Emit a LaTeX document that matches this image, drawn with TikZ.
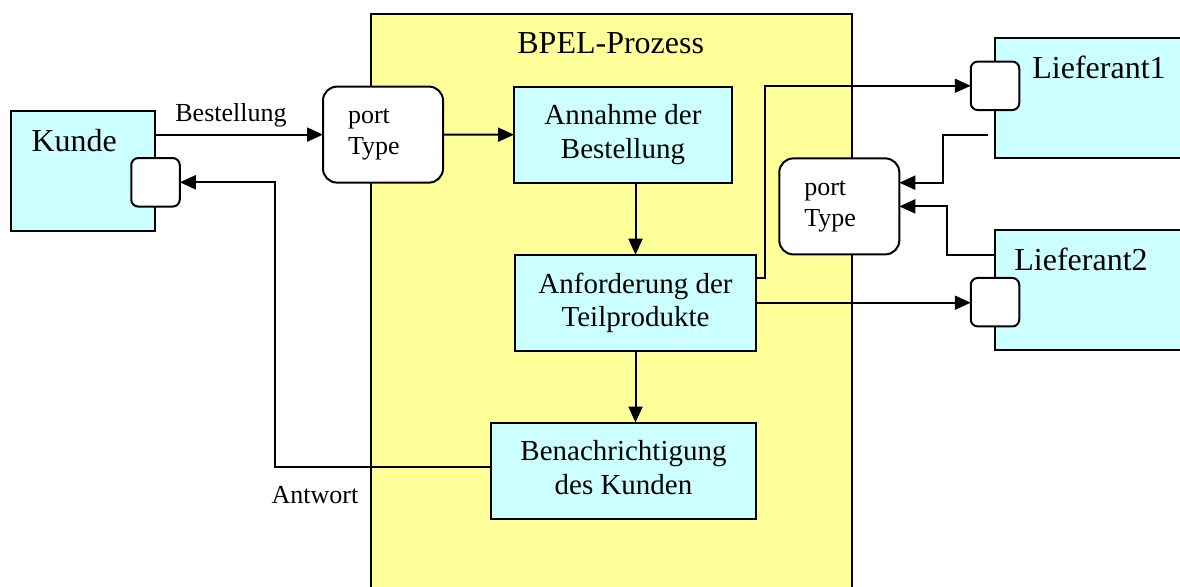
\documentclass[tikz,border=0pt]{standalone}
\usepackage{fontspec}
\setmainfont{Liberation Serif}
\usetikzlibrary{arrows.meta}
\definecolor{procyellow}{HTML}{FFFF99}
\definecolor{actcyan}{HTML}{CCFFFF}
\newcommand\txtS{\fontsize{26}{31.5}\selectfont}
\newcommand\txtM{\fontsize{29}{33.5}\selectfont}
\newcommand\txtL{\fontsize{32}{36}\selectfont}
\begin{document}
\begin{tikzpicture}[x=1pt,y=-1pt,
  every node/.style={inner sep=0pt, outer sep=0pt},
  bpelbox/.style={draw, line width=2pt, fill=procyellow},
  actor/.style={draw, line width=2pt, fill=actcyan},
  task/.style={draw, line width=2pt, fill=actcyan, minimum height=96pt, align=center, font=\txtM},
  portbox/.style={draw, line width=2pt, fill=white, rounded corners=14pt, minimum width=120pt, minimum height=96pt, inner xsep=25pt, text width=70pt, align=left, font=\txtS},
  smallport/.style={draw, line width=2pt, fill=white, rounded corners=7pt, minimum width=48.5pt, minimum height=48.5pt},
  arr/.style={line width=2pt, -{Triangle[length=16pt,width=14pt]}},
  lbl/.style={anchor=base}
]
\useasboundingbox (0,0) rectangle (1180,586);
\clip (0,0) rectangle (1180,586);

% BPEL process
\node[bpelbox, anchor=north west, minimum width=481pt, minimum height=620pt] (bpel) at (371,14) {};
\node[lbl, font=\txtL] (bpeltitle) at (610.7,53.3) {BPEL-Prozess};

% Kunde
\node[actor, minimum width=144pt, minimum height=120pt] (kunde) at (83,170.6) {};
\node[lbl, font=\txtL] (kundetxt) at (74.2,151) {Kunde};
\node[smallport] (kport) at (155.5,182.3) {};

% port types and tasks
\node[portbox] (lport) at (383,134.6) {port\\Type};
\node[task, minimum width=218pt] (annahme) at (623,134.7) {Annahme der\\Bestellung};
\node[task, minimum width=241pt] (anford) at (635.5,302.7) {Anforderung der\\Teilprodukte};
\node[task, minimum width=265pt] (benach) at (623.5,470.5) {Benachrichtigung\\des Kunden\vphantom{g}};
\node[portbox] (rport) at (839.3,206.4) {port\\Type};

% Lieferanten
\node[actor, anchor=west, minimum width=220pt, minimum height=120pt] (lief1) at (995,98.3) {};
\node[lbl, font=\txtL] (lief1txt) at (1099,78.3) {Lieferant1};
\node[smallport] (l1port) at (995,85.8) {};
\node[actor, anchor=west, minimum width=220pt, minimum height=120pt] (lief2) at (995,290) {};
\node[lbl, font=\txtL] (lief2txt) at (1081,270) {Lieferant2};
\node[smallport] (l2port) at (995,302.2) {};

% labels
\node[lbl, font=\txtS] (bestlbl) at (231,121.7) {Bestellung};
\node[lbl, font=\txtS] (antwlbl) at (315,503) {Antwort};

% connectors
\draw[arr] (kunde.east |- lport.west) -- (lport.west);
\draw[arr] (lport.east) -- (annahme.west);
\draw[arr] (anford.north |- annahme.south) -- (anford.north);
\draw[arr] (anford.south) -- (anford.south |- benach.north);
\draw[arr] ([yshift=24.4pt]anford.east) -- ++(9,0) |- (l1port.west);
\draw[arr] (anford.east) -- (anford.east -| l2port.west);
\coordinate (l1out) at (988,135);
\draw[arr] (l1out) -- ++(-45,0) |- ([yshift=23.7pt]rport.east);
\draw[arr] ([yshift=35pt]lief2.west) -- ++(-48,0) |- (rport.east);
\draw[arr] ([yshift=3.8pt]benach.west) -| ([xshift=95pt]kport.east) -- (kport.east);
\end{tikzpicture}
\end{document}
